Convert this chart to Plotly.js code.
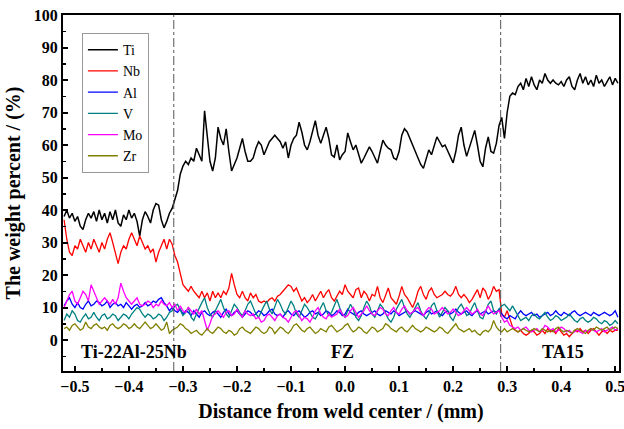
<!DOCTYPE html>
<html>
<head>
<meta charset="utf-8">
<script src="https://cdn.plot.ly/plotly-3.0.1.min.js"></script>
<style>html,body{margin:0;padding:0;background:#fff;}#chart{width:624px;height:429px;}</style>
</head>
<body>
<div id="chart"></div>
<script>
// Sampling grid of the line scan (mm)
const xStart = -0.52;
const xStep = 0.005;

const ti = [
38, 40, 37.5, 39, 36.5, 38, 35, 34, 37, 39,
37.5, 39.5, 36.5, 40, 37, 39, 36, 39.5, 37, 40,
36, 35, 38.5, 37, 40, 37.5, 39, 36.5, 32, 37,
39.5, 38, 36, 40, 42, 41.5, 37, 34.5, 36.5, 39,
40.5, 43, 46, 51, 53.5, 55, 54, 56, 55, 59,
57, 55, 70.5, 62, 55, 52, 56, 65.5, 62, 60,
65, 58, 52, 54, 56, 59, 62, 58, 55, 55,
56, 59, 61, 60, 57, 59, 61, 62, 63, 62,
61, 59, 61, 56, 60, 62, 63, 67, 64, 60,
58.5, 61, 64, 67.5, 63, 60.5, 63, 65.5, 62, 57,
56.3, 60, 55.4, 57, 58, 63.7, 61, 58.5, 60, 57,
54.4, 56, 58, 59.4, 58, 56, 54.4, 58, 61.5, 60,
59, 58.5, 56, 55.5, 58, 63, 65, 64, 62, 60,
58.5, 56, 54, 52.8, 56, 58.5, 57, 60, 62.5, 61,
59.5, 60, 58, 56, 54.5, 58, 63, 65.5, 60, 56.5,
59, 62, 64.5, 60, 55, 53.3, 59, 62.5, 58, 57.5,
60.5, 66, 68.5, 62, 70, 75, 76, 75.5, 78, 79,
77, 80.5, 78, 81, 78.5, 77, 80, 79, 82, 80,
79, 80, 79, 78.5, 79.5, 78, 80, 81, 78, 77,
80, 82, 79, 81, 78.5, 80, 78, 81.5, 79, 80,
78, 79.5, 81, 78.5, 80.5, 79
];

const nb = [
37, 31, 27, 26, 29, 28, 31, 29, 27, 30,
28, 31, 29, 27, 30, 28, 31, 33, 30, 27,
23.5, 27, 29, 28, 31, 33, 31, 29, 32, 30,
28, 29, 27, 28, 24, 27, 29, 31, 28, 31,
29.5, 26, 24, 20, 17, 16, 15, 16.5, 15, 14,
13, 15, 13, 14.5, 12, 15, 13, 14.5, 13, 15,
14, 16, 20.5, 17, 14, 13, 15, 13, 12, 14.5,
13, 14, 12, 11.5, 12, 11.5, 12.5, 13, 12, 13.5,
14, 15, 16, 17, 16.5, 15, 16, 14, 12, 13,
11.5, 12.5, 14, 12, 13.5, 15, 13, 14.5, 15.5, 13,
12, 13.5, 15, 14, 17, 15, 14, 13, 15.5, 16,
13, 15, 14, 12, 14, 13.5, 16.5, 13, 11.5, 14,
16, 13, 12, 11, 13.5, 16.5, 14, 13, 11.5, 10,
12, 15, 16.5, 14, 12.5, 15, 16, 14, 13, 13.5,
14, 15, 14, 13.5, 14.5, 16.5, 14, 13, 14, 13,
11.5, 12.5, 14, 15.5, 13, 16, 15, 12.5, 14, 16.5,
15, 15.5, 8, 7, 9, 6.5, 4, 3, 2.5, 3,
2, 1.5, 2, 3, 2.5, 1.5, 2, 3, 2, 3.5,
2.5, 3, 2, 3.5, 2.5, 1.5, 2, 1, 2, 3,
2.5, 3.5, 2.5, 3, 2, 3, 3.5, 2.5, 1.5, 2.5,
3, 2, 3, 2.5, 3, 3
];

const al = [
10.5, 12, 13, 11, 10, 11.5, 10, 9.5, 11, 12,
10.5, 11, 12, 11.5, 10.5, 11, 12, 10, 11, 11.5,
10.5, 11, 10, 11.5, 10.5, 9.5, 10.5, 11, 10, 10.5,
11.5, 10.5, 11, 12, 11.5, 12.5, 13, 11.5, 10.5, 9,
10, 9, 8.5, 9.5, 8, 9, 8.5, 7.5, 9, 8,
7, 8.5, 9, 8, 7.5, 8.5, 9, 8, 7, 8.5,
9.5, 8, 7.5, 8.5, 9, 8, 7, 8, 9, 8.5,
7.5, 8, 9, 8.5, 7.5, 8, 9, 9.5, 8, 7.5,
8, 7, 8.5, 9, 8, 7.5, 8.5, 9, 8, 7,
7.5, 8.5, 9, 8, 8.5, 7.5, 8, 9, 8.5, 7.5,
8, 9, 8.5, 7.5, 8, 9.5, 8.5, 8, 7.5, 8.5,
9, 8, 7.5, 8, 8.5, 9, 8, 7.5, 8, 9,
8.5, 8, 9, 8.5, 7.5, 8, 8.5, 9, 8, 8.5,
9, 8.5, 8, 7.5, 8.5, 9, 8, 8.5, 9, 8,
7.5, 8.5, 9, 8, 8.5, 9.5, 8.5, 8, 8.5, 9,
8, 7.5, 8.5, 9, 8, 8.5, 9, 8, 8.5, 9,
8.5, 9.5, 8, 7, 6.5, 7.5, 7, 6.5, 8, 9,
8, 7.5, 8, 8.5, 7.5, 8, 7, 7.5, 8, 8.5,
7.5, 8, 9, 8, 7.5, 8.5, 8, 7.5, 8.5, 9,
8, 7.5, 8, 8.5, 8, 7.5, 8.5, 8, 7.5, 8,
8.5, 8, 7.5, 8, 9, 7
];

const v = [
6, 8, 7, 9, 8, 6, 5.5, 7, 8, 6.5,
7, 8.5, 7, 6, 7.5, 8, 6.5, 7, 8, 7.5,
6, 7, 8, 7.5, 6.5, 8, 9, 10, 9.5, 8,
7, 8, 7.5, 6.5, 7, 8, 7.5, 6, 7, 8.5,
9, 10.5, 11, 9, 7.5, 8.5, 10, 7, 6, 8,
10, 11.5, 13, 10, 8, 7, 9, 11, 12.5, 10,
8, 7, 9, 11, 10, 8.5, 7.5, 9, 11, 12,
10, 8, 7, 9, 10.5, 12, 9.5, 8, 10, 12.5,
11, 9, 8, 10, 12, 10.5, 8, 7, 9, 11,
10, 8.5, 7, 6.5, 8, 10, 11.5, 9, 7.5, 8.5,
10.5, 12.5, 10, 8, 7, 9, 11, 9.5, 7, 6,
7.5, 10, 12, 10.5, 8, 7, 9, 11, 10, 8,
6.5, 5.5, 7, 9.5, 11, 12.5, 10, 8, 7, 8.5,
10, 11.5, 9, 7.5, 6.5, 8, 10.5, 11.5, 9, 7,
8.5, 10, 9, 7, 6, 8, 10, 11, 9.5, 7.5,
8, 10, 11.5, 9, 7, 6.5, 8.5, 11, 12, 9,
8, 9.5, 10.5, 11, 10, 9, 10.5, 9, 7.5, 6,
6.5, 7, 6, 7.5, 8, 7, 6.5, 7.5, 8.5, 7,
6, 6.5, 7.5, 7, 6, 6.5, 7, 8, 7, 6,
5.5, 6.5, 7, 6, 5.5, 6, 7, 6.5, 5.5, 5,
6, 5.5, 4.5, 5, 6, 5
];

const mo = [
10, 12, 14, 15, 12, 11, 13, 15, 14, 12,
17, 15, 13, 11, 12, 13, 12, 11, 12.5, 11,
13, 17.5, 15, 13, 12, 11, 12, 13, 11, 10.5,
11, 12, 11.5, 10, 11, 10.5, 12, 11, 10.5, 11.5,
10, 11, 9, 10.5, 9, 8.5, 10, 9, 8, 9.5,
8, 9, 6, 3, 5, 7.5, 8, 9, 8, 7,
8.5, 9, 7.5, 8, 9.5, 8, 7, 9, 8, 7.5,
8, 6.5, 7, 5.5, 6, 7.5, 8, 7, 6, 7.5,
8, 7, 6.5, 5.5, 7, 8.5, 9, 7.5, 6, 7,
6.5, 5.5, 7, 9, 10, 8, 7, 6.5, 8, 7,
7.5, 8, 9.5, 8, 7, 7.5, 9, 10, 8.5, 7,
8, 9, 10.5, 9, 8, 7.5, 9, 10, 9.5, 8,
7.5, 9, 10, 8.5, 8, 9.5, 10.5, 9, 8, 8.5,
9.5, 10, 8.5, 7.5, 9, 10, 9.5, 8, 8.5, 9,
10, 9, 8, 8.5, 9.5, 8.5, 7.5, 8, 9, 10,
9, 8, 8.5, 9.5, 8, 7.5, 9, 10.5, 9, 8,
8.5, 9, 7, 5.5, 6, 4.5, 4, 3.5, 4, 3,
3.5, 4, 3, 2.5, 3, 3.5, 2.5, 3, 4.5, 4,
3, 3.5, 2.5, 3, 4, 3.5, 2.5, 3, 2, 2.5,
3, 2.5, 2, 3, 2.5, 3.5, 3, 2.5, 3, 3.5,
2.5, 3, 3.5, 4, 3, 3.5
];

const zr = [
3.5, 4, 3, 4.5, 5, 4, 3, 3.5, 5.5, 4,
3.5, 4.5, 5, 4, 3.5, 4, 3, 4.5, 5, 4,
3.5, 4, 5, 4.5, 3.5, 4, 5, 4, 3.5, 4.5,
5.5, 4.5, 3.5, 4, 5, 4, 3, 3.5, 5.5, 2,
3, 3.5, 4, 5, 4.5, 3.5, 3, 2, 2.5, 3,
2, 1.5, 2.5, 3.5, 2.5, 2, 3, 4, 3.5, 2.5,
2, 3, 2.5, 1.5, 2, 3.5, 4, 3, 2.5, 2,
3, 4, 3.5, 2.5, 2, 2.5, 4, 3.5, 2, 3,
4, 3.5, 2.5, 2, 3, 4.5, 5, 4, 3, 2.5,
3.5, 4, 3, 2, 2.5, 3.5, 3, 2.5, 4, 4.5,
3.5, 2.5, 3, 3.5, 4.5, 5, 3.5, 2.5, 3, 4,
3.5, 2.5, 2, 3, 4, 3.5, 2.5, 3, 3.5, 5,
4.5, 3.5, 3, 2.5, 3.5, 4, 3, 2.5, 3.5, 4.5,
3.5, 3, 2.5, 3, 4, 3.5, 3, 2.5, 3, 4,
3.5, 2.5, 2, 3, 4, 5, 3.5, 3, 2.5, 3,
3.5, 2.5, 3, 2, 1.5, 2.5, 3, 2.5, 3.5, 6,
4, 3, 2.5, 3.5, 2.5, 3, 3.5, 3, 2.5, 3,
3.5, 3, 2.5, 3, 3.5, 3, 2.5, 3.5, 3, 2.5,
3, 2.5, 3.5, 4, 3, 2.5, 3, 2.5, 2, 3,
3.5, 3, 2.5, 2, 3, 3.5, 3, 4, 3.5, 3,
3.5, 4, 3, 3.5, 4, 3.5
];

const seriesNames = ["Ti", "Nb", "Al", "V", "Mo", "Zr"];
const seriesColors = ["#000000", "#ff0000", "#0000ff", "#008080", "#ff00ff", "#808000"];
const seriesWidths = [1.5, 1.3, 1.3, 1.3, 1.3, 1.3];
const seriesData = [ti, nb, al, v, mo, zr];

const boundaries = [-0.317, 0.288];
const regionLabels = ["Ti-22Al-25Nb", "FZ", "TA15"];
const regionX = [-0.39, -0.004, 0.404];
const regionY = -3.8;

const xTicks = [-0.5, -0.4, -0.3, -0.2, -0.1, 0.0, 0.1, 0.2, 0.3, 0.4, 0.5];
const yTicks = [0, 10, 20, 30, 40, 50, 60, 70, 80, 90, 100];

const xs = ti.map((_, i) => +(xStart + i * xStep).toFixed(4));

const serif = "Liberation Serif, Times New Roman, serif";

const traces = seriesData.map((d, k) => ({
  x: xs, y: d, type: "scatter", mode: "lines", name: seriesNames[k],
  line: {color: seriesColors[k], width: seriesWidths[k]}
}));

const shapes = boundaries.map(b => ({
  type: "line", xref: "x", yref: "paper", x0: b, x1: b, y0: 0, y1: 1,
  line: {color: "#555555", width: 1, dash: "dashdot"}
}));

const annotations = regionLabels.map((t, k) => ({
  x: regionX[k], y: regionY, xref: "x", yref: "y", text: t, showarrow: false,
  font: {family: serif, size: 18, color: "#000", weight: "bold"}
}));

const layout = {
  width: 624, height: 429,
  margin: {l: 63, r: 5, t: 15, b: 58},
  paper_bgcolor: "#fff", plot_bgcolor: "#fff",
  showlegend: true,
  legend: {
    x: 0.034, y: 0.949, xanchor: "left", yanchor: "top",
    bgcolor: "#fff", bordercolor: "#999", borderwidth: 1,
    font: {family: serif, size: 14, color: "#000"},
    tracegroupgap: 0
  },
  xaxis: {
    range: [-0.522, 0.507], showgrid: false, zeroline: false,
    showline: true, linecolor: "#000", linewidth: 2, mirror: true,
    tickvals: xTicks, tickformat: ".1f", ticklabeloverflow: "allow",
    ticks: "inside", ticklen: 5, tickwidth: 2, tickcolor: "#000",
    minor: {dtick: 0.05, tick0: 0, ticks: "inside", ticklen: 3, tickwidth: 1.5, tickcolor: "#000"},
    tickfont: {family: serif, size: 16, color: "#000", weight: "bold"},
    title: {text: "Distance from weld center / (mm)", font: {family: serif, size: 20, color: "#000", weight: "bold"}, standoff: 10}
  },
  yaxis: {
    range: [-9.54, 100], showgrid: false, zeroline: false,
    showline: true, linecolor: "#000", linewidth: 2, mirror: true,
    tickvals: yTicks,
    ticks: "inside", ticklen: 5, tickwidth: 2, tickcolor: "#000",
    minor: {dtick: 5, tick0: 0, ticks: "inside", ticklen: 3, tickwidth: 1.5, tickcolor: "#000"},
    tickfont: {family: serif, size: 16, color: "#000", weight: "bold"},
    title: {text: "The weight percent / (%)", font: {family: serif, size: 20, color: "#000", weight: "bold"}, standoff: 8}
  },
  shapes: shapes,
  annotations: annotations
};

Plotly.newPlot("chart", traces, layout, {displayModeBar: false, staticPlot: true});
</script>
</body>
</html>
